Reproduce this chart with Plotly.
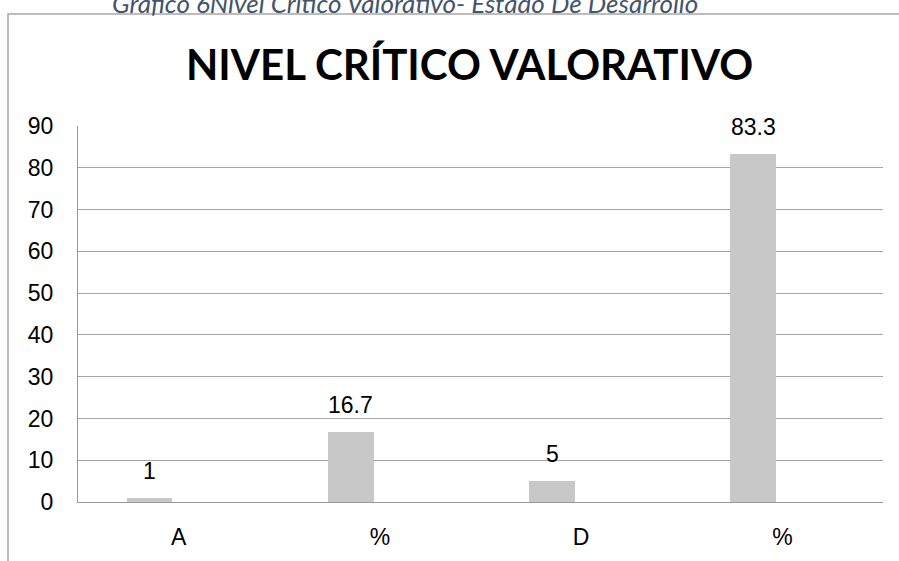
import plotly.graph_objects as go

# Datos
categorias = ['A', '%', 'D', '%%']
etiquetas = ['A', '%', 'D', '%']
valores = [1, 16.7, 5, 83.3]
y_ticks = [0, 10, 20, 30, 40, 50, 60, 70, 80, 90]

W, H = 899, 561
M_L, M_R, M_T, M_B = 78, 16, 126, 59
plot_w = W - M_L - M_R
plot_h = H - M_T - M_B

bar_offset = -0.258
bar_width = 0.227
cat_px = plot_w / len(categorias)
shift_px = (bar_offset + bar_width / 2) * cat_px


def py(p):
    """pixel vertical -> coordenada paper"""
    return (H - M_B - p) / plot_h


def px(p):
    return (p - M_L) / plot_w


fig = go.Figure()

fig.add_trace(go.Bar(
    x=categorias,
    y=valores,
    marker_color='#c8c8c8',
    marker_line_width=0,
    offset=bar_offset,
    width=bar_width,
    hoverinfo='skip',
    showlegend=False
))

# Etiquetas de datos
for c, v in zip(categorias, valores):
    fig.add_annotation(
        x=c, y=v, xref='x', yref='y',
        text=f'{v:g}',
        showarrow=False,
        xshift=shift_px, yshift=12,
        yanchor='bottom',
        font=dict(family='Liberation Sans, Arial', size=23, color='#000000')
    )

# Leyenda superior (recortada como en el original)
fig.add_annotation(
    x=px(405), y=py(3), xref='paper', yref='paper',
    text='<i>Gráfico 6Nivel Crítico Valorativo- Estado De Desarrollo</i>',
    showarrow=False, xanchor='center', yanchor='middle',
    font=dict(family='Lato, Open Sans', size=26, color='#44546a')
)

# Título
fig.add_annotation(
    x=px(469), y=py(64), xref='paper', yref='paper',
    text='<b>NIVEL CRÍTICO VALORATIVO</b>',
    showarrow=False, xanchor='center', yanchor='middle',
    font=dict(family='Lato', size=42, color='#000000')
)

# Marco del gráfico
fig.add_shape(
    type='rect', xref='paper', yref='paper',
    x0=px(8), x1=px(910), y0=py(580), y1=py(14),
    line=dict(color='#a6a6a6', width=1.5),
    fillcolor='rgba(0,0,0,0)', layer='below'
)

fig.update_layout(
    width=W, height=H,
    margin=dict(l=M_L, r=M_R, t=M_T, b=M_B),
    paper_bgcolor='white',
    plot_bgcolor='white',
    bargap=0,
    xaxis=dict(
        type='category',
        tickvals=categorias,
        ticktext=etiquetas,
        showgrid=False,
        showline=True, linecolor='#999999', linewidth=1,
        ticks='', ticklabelstandoff=14,
        automargin=False,
        tickfont=dict(family='Liberation Sans, Arial', size=23, color='#000000'),
        range=[-0.5, 3.5]
    ),
    yaxis=dict(
        range=[0, 90],
        tickvals=y_ticks,
        showgrid=True, gridcolor='#a6a6a6', gridwidth=1,
        showline=True, linecolor='#999999', linewidth=1,
        zeroline=False,
        ticks='', ticklabelstandoff=19,
        automargin=False,
        tickfont=dict(family='Liberation Sans, Arial', size=23, color='#000000')
    )
)

fig.write_html(
    "out.html",
    config={'displayModeBar': False},
    post_script="document.body.style.margin='0';document.body.style.overflow='hidden';"
)
